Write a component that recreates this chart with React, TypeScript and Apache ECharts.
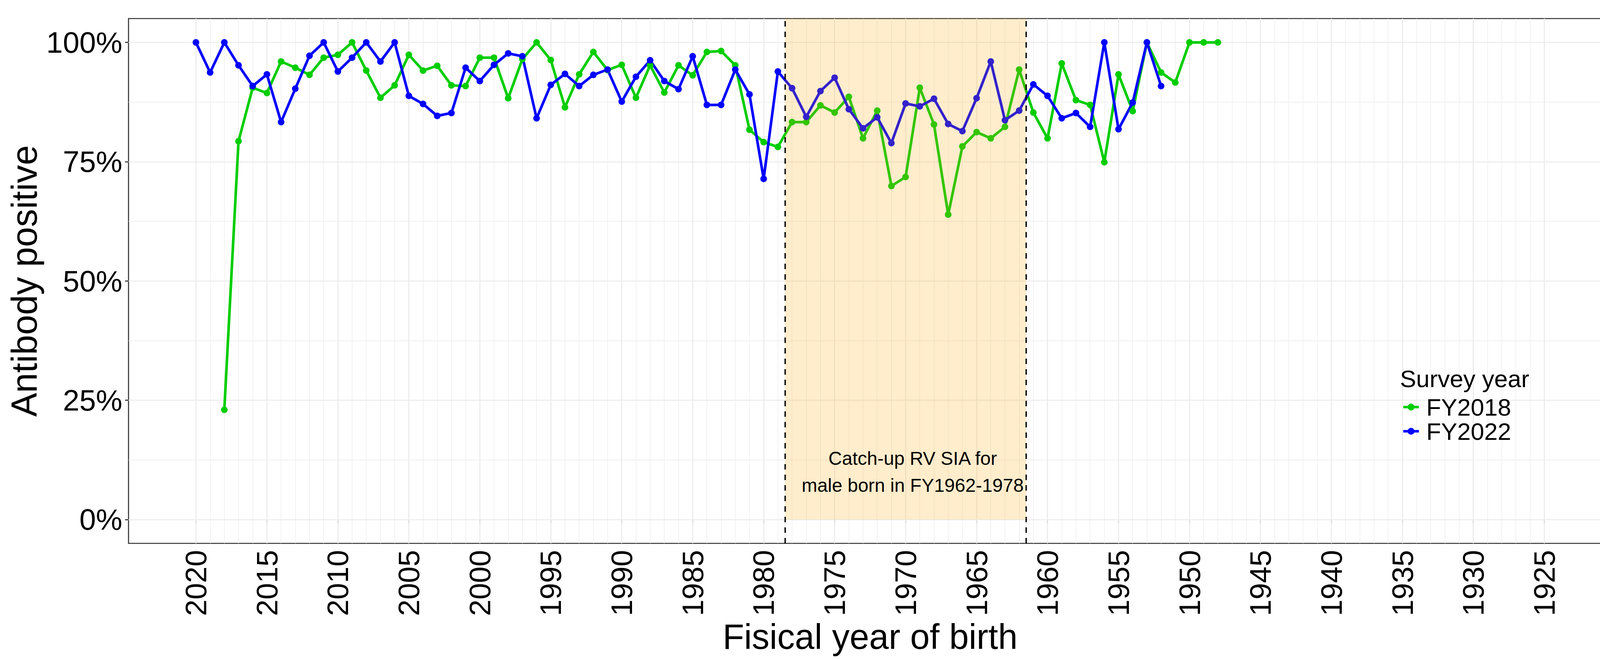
import React, { useEffect, useRef } from "react";
import * as echarts from "echarts";

// ---- data (percent antibody positive by fiscal year of birth) ----
const yearsFY2018 = [
  2018, 2017, 2016, 2015, 2014, 2013, 2012, 2011, 2010, 2009, 2008, 2007, 2006, 2005, 2004, 2003, 2002, 2001,
  2000, 1999, 1998, 1997, 1996, 1995, 1994, 1993, 1992, 1991, 1990, 1989, 1988, 1987, 1986, 1985, 1984, 1983,
  1982, 1981, 1980, 1979, 1978, 1977, 1976, 1975, 1974, 1973, 1972, 1971, 1970, 1969, 1968, 1967, 1966, 1965,
  1964, 1963, 1962, 1961, 1960, 1959, 1958, 1957, 1956, 1955, 1954, 1953, 1952, 1951, 1950, 1949, 1948,
];
const valuesFY2018 = [
  23.0, 79.3, 90.5, 89.4, 96.0, 94.7, 93.2, 96.8, 97.4, 100, 94.1, 88.4, 91.0, 97.4, 94.1, 95.1, 91.0, 90.85,
  96.8, 96.8, 88.3, 96.5, 100, 96.3, 86.4, 93.3, 98.0, 94.2, 95.3, 88.4, 95.2, 89.5, 95.2, 93.1, 98.0, 98.2,
  95.2, 81.7, 79.1, 78.1, 83.3, 83.3, 86.8, 85.3, 88.6, 79.9, 85.7, 69.9, 71.8, 90.5, 82.8, 63.9, 78.2, 81.2,
  79.9, 82.3, 94.3, 85.3, 79.9, 95.6, 87.9, 86.9, 74.9, 93.3, 85.6, 100, 93.7, 91.6, 100, 100, 100,
];

const yearsFY2022 = [
  2020, 2019, 2018, 2017, 2016, 2015, 2014, 2013, 2012, 2011, 2010, 2009, 2008, 2007, 2006, 2005, 2004, 2003,
  2002, 2001, 2000, 1999, 1998, 1997, 1996, 1995, 1994, 1993, 1992, 1991, 1990, 1989, 1988, 1987, 1986, 1985,
  1984, 1983, 1982, 1981, 1980, 1979, 1978, 1977, 1976, 1975, 1974, 1973, 1972, 1971, 1970, 1969, 1968, 1967,
  1966, 1965, 1964, 1963, 1962, 1961, 1960, 1959, 1958, 1957, 1956, 1955, 1954, 1953, 1952,
];
const valuesFY2022 = [
  100, 93.7, 100, 95.2, 90.85, 93.3, 83.3, 90.3, 97.2, 100, 93.9, 96.8, 100, 96.0, 100, 88.8, 87.1, 84.6,
  85.2, 94.7, 91.9, 95.3, 97.7, 97.1, 84.1, 91.1, 93.4, 90.85, 93.2, 94.3, 87.6, 92.8, 96.25, 91.9, 90.2, 97.1,
  86.9, 86.9, 94.3, 89.1, 71.4, 93.9, 90.4, 84.4, 89.8, 92.6, 86.0, 82.0, 84.3, 78.9, 87.2, 86.6, 88.2, 82.9,
  81.4, 88.3, 96.0, 83.7, 85.7, 91.2, 88.8, 84.1, 85.2, 82.3, 100, 81.8, 87.4, 100, 90.85,
];

const seriesNames = ["FY2018", "FY2022"];
const xTickYears = [2020, 2015, 2010, 2005, 2000, 1995, 1990, 1985, 1980, 1975, 1970, 1965, 1960, 1955, 1950, 1945, 1940, 1935, 1930, 1925];
const yTickValues = [0, 25, 50, 75, 100];
const siaBounds = [1978.5, 1961.5];
const annotationLines = ["Catch-up RV SIA for", "male born in FY1962-1978"];
const annotationAt = [1969.5, 10];

const FONT = "'Liberation Sans', Arial, Helvetica, sans-serif";
const GRID_COLOR = "#EBEBEB";

export default function App() {
  const ref = useRef<HTMLDivElement>(null);

  useEffect(() => {
    document.body.style.margin = "0";
    const chart = echarts.init(ref.current as HTMLDivElement, null, { renderer: "svg" });

    const xFirst = Math.min(...xTickYears);
    const xLast = Math.max(...xTickYears);
    const yFirst = Math.min(...yTickValues);
    const yLast = Math.max(...yTickValues);
    const gridLines: any[] = [];
    for (let yr = xFirst; yr <= xLast; yr++) {
      gridLines.push({ xAxis: yr, lineStyle: { color: GRID_COLOR, width: yr % 5 === 0 ? 2.7 : 1.35, type: "solid" } });
    }
    for (let v = yFirst; v <= yLast; v += 12.5) {
      gridLines.push({ yAxis: v, lineStyle: { color: GRID_COLOR, width: v % 25 === 0 ? 2.7 : 1.35, type: "solid" } });
    }

    const xSpan = xLast - xFirst;
    const ySpan = yLast - yFirst;

    const option: any = {
      animation: false,
      textStyle: { fontFamily: FONT, color: "#000" },
      title: {
        text: "Survey year",
        left: 3584,
        top: 938,
        padding: 0,
        textStyle: { fontFamily: FONT, fontSize: 62, fontWeight: "normal", color: "#000" },
      },
      legend: {
        data: seriesNames,
        orient: "vertical",
        left: 3589,
        top: 1011,
        itemWidth: 40,
        itemHeight: 22,
        itemGap: 0,
        padding: 0,
        lineStyle: { width: 6.7 },
        textStyle: { fontFamily: FONT, fontSize: 62, lineHeight: 58, color: "#000", padding: [0, 0, 0, 14] },
      },
      grid: {
        left: 329,
        right: 22,
        top: 47.5,
        bottom: 296,
        show: true,
        borderColor: "#333333",
        borderWidth: 2.7,
        backgroundColor: "transparent",
        containLabel: false,
        outerBoundsMode: "none",
      },
      xAxis: {
        type: "value",
        inverse: true,
        min: xFirst - xSpan * 0.05,
        max: xLast + xSpan * 0.05,
        name: "Fisical year of birth",
        nameLocation: "middle",
        nameGap: 176,
        nameTextStyle: { fontFamily: FONT, fontSize: 90, color: "#000" },
        axisLine: { show: false },
        axisTick: { show: true, length: 9, lineStyle: { color: "#333333", width: 2.7 }, customValues: xTickYears },
        axisLabel: {
          customValues: xTickYears,
          rotate: 90,
          margin: 17,
          fontFamily: FONT,
          fontSize: 76,
          color: "#000",
          formatter: (v: number) => String(v),
        },
        splitLine: { show: false },
      },
      yAxis: {
        type: "value",
        min: yFirst - ySpan * 0.05,
        max: yLast + ySpan * 0.05,
        name: "Antibody positive",
        nameLocation: "middle",
        nameGap: 215,
        nameTextStyle: { fontFamily: FONT, fontSize: 92, color: "#000" },
        axisLine: { show: false },
        axisTick: { show: true, length: 9, lineStyle: { color: "#333333", width: 2.7 }, customValues: yTickValues },
        axisLabel: {
          customValues: yTickValues,
          margin: 16,
          fontFamily: FONT,
          fontSize: 76,
          color: "#000",
          formatter: (v: number) => `${v}%`,
        },
        splitLine: { show: false },
      },
      series: [
        {
          name: "gridlines",
          type: "line",
          data: [],
          silent: true,
          markLine: {
            z: 1,
            silent: true,
            symbol: ["none", "none"],
            label: { show: false },
            emphasis: { disabled: true },
            data: gridLines,
          },
        },
        {
          name: seriesNames[0],
          type: "line",
          z: 2,
          data: yearsFY2018.map((y, i) => [y, valuesFY2018[i]]),
          symbol: "circle",
          symbolSize: 17,
          showSymbol: true,
          color: "#00CD00",
          itemStyle: { color: "#00CD00" },
          lineStyle: { color: "#00CD00", width: 6.7 },
          emphasis: { disabled: true },
        },
        {
          name: seriesNames[1],
          type: "line",
          z: 2,
          data: yearsFY2022.map((y, i) => [y, valuesFY2022[i]]),
          symbol: "circle",
          symbolSize: 17,
          showSymbol: true,
          color: "#0000FF",
          itemStyle: { color: "#0000FF" },
          lineStyle: { color: "#0000FF", width: 6.7 },
          emphasis: { disabled: true },
        },
        {
          name: "sia",
          type: "line",
          data: [],
          silent: true,
          markArea: {
            z: 3,
            silent: true,
            label: { show: false },
            itemStyle: { color: "rgba(255,165,0,0.2)", borderWidth: 0 },
            emphasis: { disabled: true },
            data: [[{ xAxis: siaBounds[0], yAxis: yFirst }, { xAxis: siaBounds[1], yAxis: yLast + ySpan * 0.05 }]],
          },
          markLine: {
            z: 6,
            silent: true,
            symbol: ["none", "none"],
            label: { show: false },
            emphasis: { disabled: true },
            lineStyle: { color: "#000", width: 3.5, type: [14, 13] },
            data: siaBounds.map((b) => ({ xAxis: b })),
          },
          markPoint: {
            z: 7,
            silent: true,
            symbol: "circle",
            symbolSize: 0,
            itemStyle: { color: "transparent" },
            label: {
              show: true,
              position: "inside",
              formatter: annotationLines.join("\n"),
              fontFamily: FONT,
              fontSize: 48,
              lineHeight: 69,
              color: "#000",
              align: "center",
            },
            data: [{ coord: annotationAt }],
          },
        },
      ],
    };

    chart.setOption(option);
    return () => chart.dispose();
  }, []);

  return <div ref={ref} style={{ width: 4148, height: 1687 }} />;
}
